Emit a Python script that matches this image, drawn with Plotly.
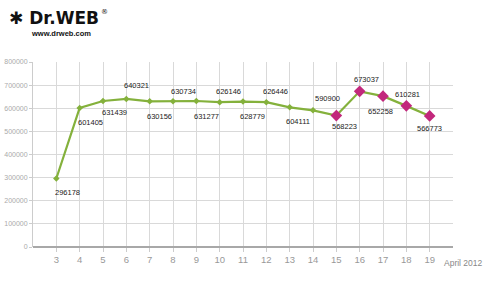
import plotly.graph_objects as go

days = [3, 4, 5, 6, 7, 8, 9, 10, 11, 12, 13, 14, 15, 16, 17, 18, 19]
values = [296178, 601405, 631439, 640321, 630156, 630734, 631277, 626146,
          628779, 626446, 604111, 590900, 568223, 673037, 652258, 610281, 566773]
highlight_days = [15, 16, 17, 18, 19]
y_ticks = [0, 100000, 200000, 300000, 400000, 500000, 600000, 700000, 800000]
x_label = "April 2012"

# label offsets in pixels (style only)
label_dx = [11, 11, 11, 10.5, 10, 10, 10, 8.5, 9, 9, 8.5, 14.5, 8.5, 7, -2.5, 1.5, -0.5]
label_dy = [14, 14.5, 12, -13, 15, -9.5, 15, -10.5, 15, -10.5, 14, -12, 11, -11.5, 15.5, -11.5, 13]

GREEN = "#84b13c"
MAGENTA = "#c2287c"

W, H = 500, 282
ml, mr, mt, mb = 33, 47, 62, 35
pw, ph = W - ml - mr, H - mt - mb


def px(x, y):
    return (x - ml) / pw, (H - mb - y) / ph


fig = go.Figure()
fig.add_trace(go.Scatter(
    x=days, y=values, mode="lines+markers",
    line=dict(color=GREEN, width=2.2),
    marker=dict(symbol="diamond", size=5, color=GREEN),
    hoverinfo="skip", showlegend=False,
))
hx = [d for d in days if d in highlight_days]
hy = [v for d, v in zip(days, values) if d in highlight_days]
fig.add_trace(go.Scatter(
    x=hx, y=hy, mode="markers",
    marker=dict(symbol="diamond", size=9, color=MAGENTA),
    hoverinfo="skip", showlegend=False,
))

font_narrow = "Liberation Sans Narrow, Arial Narrow, Liberation Sans, sans-serif"
annotations = []
for d, v, dx, dy in zip(days, values, label_dx, label_dy):
    annotations.append(dict(
        x=d, y=v, xref="x", yref="y", text=str(v), showarrow=False,
        xshift=dx, yshift=-dy, font=dict(size=7.5, color="#222", family=font_narrow),
    ))
annotations.append(dict(
    x=20, y=0, xref="x", yref="y", text=x_label, showarrow=False,
    xanchor="center", yanchor="middle", xshift=10, yshift=-15.5,
    font=dict(size=8.5, color="#888", family=font_narrow),
))
lx, ly = px(7, 18)
annotations.append(dict(
    x=lx, y=ly, xref="paper", yref="paper", xanchor="left", yanchor="middle",
    text="<b>\u2731 Dr.WEB</b>", showarrow=False,
    font=dict(size=17, color="#111", family="DejaVu Sans, Liberation Sans, sans-serif"),
))
rx, ry = px(99, 12)
annotations.append(dict(
    x=rx, y=ry, xref="paper", yref="paper", xanchor="left", yanchor="middle",
    text="®", showarrow=False,
    font=dict(size=7, color="#111", family="DejaVu Sans, Liberation Sans, sans-serif"),
))
wx, wy = px(29, 33)
annotations.append(dict(
    x=wx, y=wy, xref="paper", yref="paper", text="<b>www.drweb.com</b>", showarrow=False,
    xanchor="left", yanchor="middle",
    font=dict(size=7.5, color="#111", family="Liberation Sans, Arial, sans-serif"),
))

fig.update_layout(
    width=W, height=H,
    margin=dict(l=ml, r=mr, t=mt, b=mb, autoexpand=False),
    paper_bgcolor="white", plot_bgcolor="white",
    annotations=annotations,
    xaxis=dict(
        range=[2, 20], tickvals=days,
        ticktext=[str(d) for d in days],
        showgrid=True, gridcolor="#d9d9d9", gridwidth=1,
        zeroline=False, showline=False, automargin=False,
        ticks="outside", ticklen=4, tickcolor="#cccccc",
        tickfont=dict(size=9.5, color="#999", family=font_narrow),
        fixedrange=True,
    ),
    yaxis=dict(
        range=[0, 800000], tickvals=y_ticks,
        ticktext=[str(t) for t in y_ticks],
        showgrid=True, gridcolor="#d9d9d9", gridwidth=1,
        zeroline=True, zerolinecolor="#a8a8a8", zerolinewidth=1.5,
        showline=True, linecolor="#cccccc", linewidth=1, automargin=False,
        ticks="outside", ticklen=3, tickcolor="#cccccc",
        tickfont=dict(size=7, color="#aaa", family=font_narrow),
        fixedrange=True,
    ),
)
fig.write_html("out.html")
